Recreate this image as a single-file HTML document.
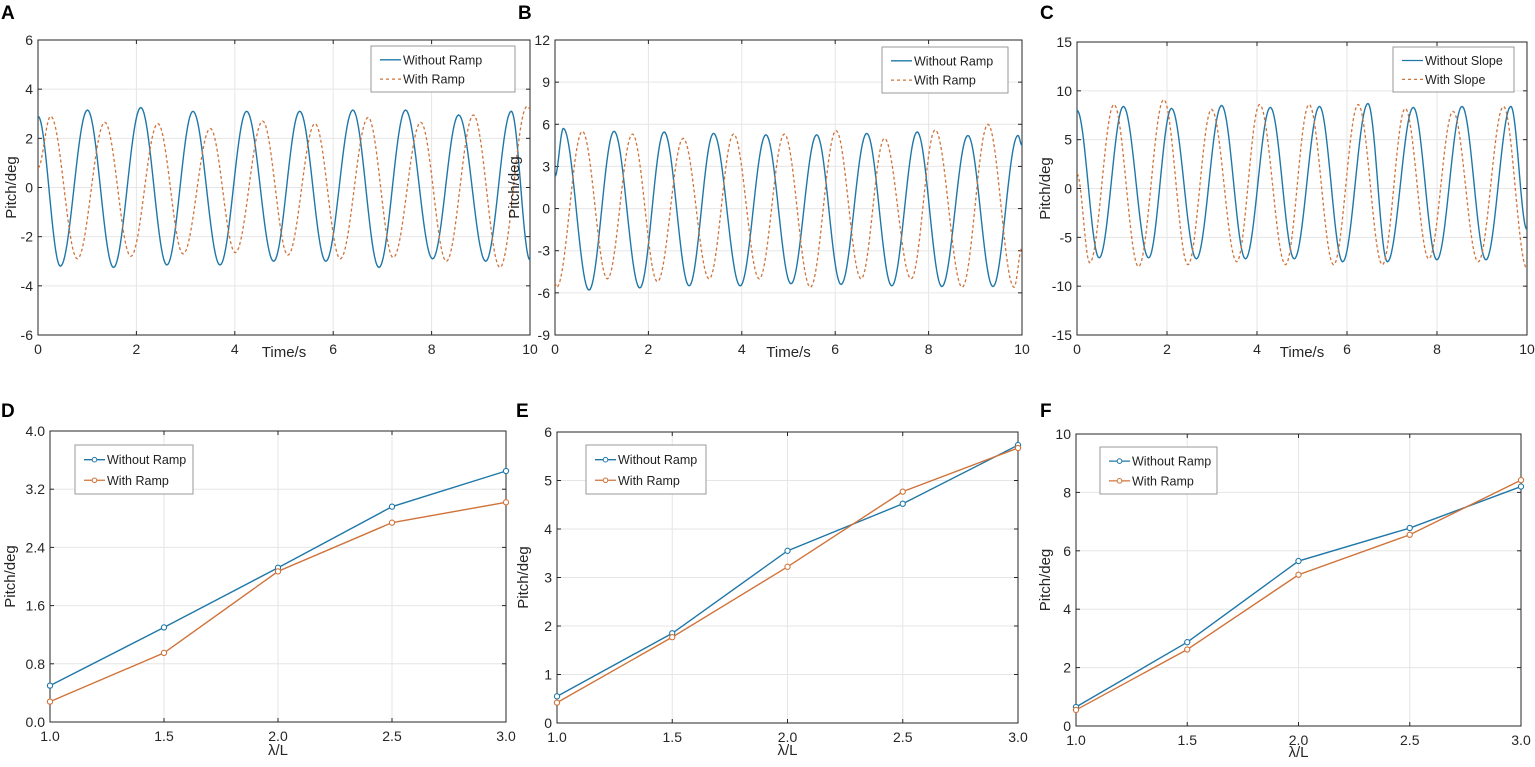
<!DOCTYPE html>
<html><head><meta charset="utf-8"><style>
html,body{margin:0;padding:0;background:#fff;}
svg{display:block;font-family:"Liberation Sans",Arial,sans-serif;}
</style></head><body>
<svg id="fig" width="1535" height="767" viewBox="0 0 1535 767" xmlns="http://www.w3.org/2000/svg"></svg>
<script>
// ---- Panel A data (time of extrema in s, values in deg) ----
const aBlueT=[0,0.455,1.006,1.535,2.09,2.62,3.15,3.70,4.24,4.79,5.32,5.85,6.40,6.93,7.47,8.02,8.55,9.10,9.62,10];
const aBlueV=[2.9,-3.2,3.15,-3.25,3.25,-3.15,3.1,-3.15,3.1,-3.0,3.1,-3.0,3.15,-3.25,3.15,-2.9,2.95,-3.0,3.1,-2.95];
const aOrT=[0,0.257,0.80,1.358,1.887,2.437,2.95,3.502,4.01,4.567,5.08,5.63,6.145,6.71,7.22,7.78,8.30,8.85,9.39,9.94,10];
const aOrV=[0.8,2.9,-2.9,2.65,-2.8,2.6,-2.7,2.4,-2.65,2.7,-2.75,2.6,-2.9,2.85,-2.85,2.65,-3.0,2.95,-3.25,3.3,3.2];
// ---- Panel B ----
const bBlueT=[0,0.18,0.729,1.265,1.816,2.337,2.873,3.395,3.967,4.517,5.054,5.604,6.126,6.676,7.212,7.756,8.284,8.842,9.378,9.914,10];
const bBlueV=[2.3,5.7,-5.8,5.5,-5.65,5.45,-5.5,5.35,-5.5,5.25,-5.35,5.25,-5.4,5.35,-5.5,5.45,-5.55,5.2,-5.55,5.2,4.5];
const bOrT=[0,0.036,0.586,1.122,1.658,2.194,2.745,3.302,3.824,4.374,4.911,5.468,6.018,6.555,7.055,7.627,8.141,8.72,9.271,9.829,10];
const bOrV=[-5.3,-5.6,5.5,-5.0,5.3,-5.2,5.0,-5.0,5.3,-5.0,5.3,-5.6,5.55,-5.0,5.0,-5.0,5.6,-5.6,6.0,-5.6,-2.8];
// ---- Panel C ----
const cBlueT=[0,0.493,1.031,1.592,2.10,2.653,3.214,3.744,4.297,4.828,5.389,5.904,6.465,6.898,7.474,7.997,8.557,9.088,9.641,10];
const cBlueV=[8.0,-7.1,8.4,-7.1,8.2,-7.2,8.5,-7.2,8.3,-7.2,8.4,-7.5,8.7,-7.5,8.3,-7.3,8.4,-7.3,8.4,-4.2];
const cOrT=[0,0.284,0.822,1.368,1.928,2.466,2.99,3.55,4.058,4.634,5.157,5.703,6.248,6.786,7.294,7.818,8.356,8.916,9.477,10];
const cOrV=[1.5,-7.6,8.6,-8.0,9.1,-7.8,8.1,-7.5,8.6,-7.8,8.6,-7.8,8.6,-7.8,8.2,-7.2,7.9,-7.5,8.4,-8.2];
// ---- Bottom panels ----
const lambdaCats=[1.0,1.5,2.0,2.5,3.0];
const dBlue=[0.50,1.30,2.12,2.96,3.45];
const dOrange=[0.28,0.95,2.07,2.74,3.02];
const eBlue=[0.55,1.85,3.55,4.52,5.73];
const eOrange=[0.42,1.77,3.22,4.77,5.67];
const fBlue=[0.65,2.87,5.65,6.78,8.20];
const fOrange=[0.55,2.62,5.18,6.55,8.42];
// ---- Tick labels ----
const timeTicks=[0,2,4,6,8,10];
const aYTicks=[-6,-4,-2,0,2,4,6];
const bYTicks=[-9,-6,-3,0,3,6,9,12];
const cYTicks=[-15,-10,-5,0,5,10,15];
const dYTicks=[0.0,0.8,1.6,2.4,3.2,4.0];
const eYTicks=[0,1,2,3,4,5,6];
const fYTicks=[0,2,4,6,8,10];

const NS="http://www.w3.org/2000/svg";
const svg=document.getElementById('fig');
const BLUE="#1f77a8", ORANGE="#d0733a";
function mk(tag,attrs,parent){const e=document.createElementNS(NS,tag);for(const k in attrs)e.setAttribute(k,attrs[k]);(parent||svg).appendChild(e);return e;}

function axes(p){
  const g=mk('g',{});
  
  
  const sx=v=>p.l+(v-p.x0)/(p.x1-p.x0)*(p.r-p.l);
  const sy=v=>p.b-(v-p.y0)/(p.y1-p.y0)*(p.b-p.t);
  p.xt.forEach(v=>{const l=mk('line',{x1:sx(v),x2:sx(v),y1:p.t,y2:p.b,stroke:'#e6e6e6','stroke-width':1},g);});
  p.yt.forEach(v=>{const l=mk('line',{x1:p.l,x2:p.r,y1:sy(v),y2:sy(v),stroke:'#e6e6e6','stroke-width':1},g);});
  const box=mk('rect',{x:p.l,y:p.t,width:p.r-p.l,height:p.b-p.t,fill:'none',stroke:'#262626','stroke-width':1},g);
  
  p.xt.forEach(v=>{
    mk('line',{x1:sx(v),x2:sx(v),y1:p.b,y2:p.b-4,stroke:'#262626'},g);
    mk('line',{x1:sx(v),x2:sx(v),y1:p.t,y2:p.t+4,stroke:'#262626'},g);
    const t=mk('text',{x:sx(v),y:p.b+19,'text-anchor':'middle','font-size':14,fill:'#262626'},g);
    t.textContent=p.xfmt(v);
    
  });
  p.yt.forEach(v=>{
    mk('line',{x1:p.l,x2:p.l+4,y1:sy(v),y2:sy(v),stroke:'#262626'},g);
    mk('line',{x1:p.r,x2:p.r-4,y1:sy(v),y2:sy(v),stroke:'#262626'},g);
    const t=mk('text',{x:p.l-5,y:sy(v)+5,'text-anchor':'end','font-size':14,fill:'#262626'},g);
    t.textContent=p.yfmt(v);
    
  });
  const yl=mk('text',{x:0,y:0,transform:`translate(${p.ylx},${(p.t+p.b)/2}) rotate(-90)`,'text-anchor':'middle','font-size':15,fill:'#262626'},g);
  yl.textContent='Pitch/deg';
  const xl=mk('text',{x:(p.l+p.r)/2,y:p.xly,'text-anchor':'middle','font-size':15,fill:'#262626'},g);
  xl.textContent=p.xlabel;
  const pl=mk('text',{x:p.lx,y:p.ly,'font-size':19,'font-weight':'bold',fill:'#000'},g);
  pl.textContent=p.letter;
  return {g,sx,sy};
}

function waveD(T,V,sx,sy){
  let d='';
  for(let i=0;i<T.length-1;i++){
    const n=24;
    for(let k=(i==0?0:1);k<=n;k++){
      const f=k/n, w=(1-Math.cos(Math.PI*f))/2;
      const t=T[i]+(T[i+1]-T[i])*f, v=V[i]+(V[i+1]-V[i])*w;
      d+=(d?'L':'M')+sx(t).toFixed(2)+','+sy(v).toFixed(2);
    }
  }
  return d;
}

function legend(g,x,y,w,h,labels,markers,dashed){
  const lg=mk('g',{},g);
  
  mk('rect',{x:x,y:y,width:w,height:h,fill:'#fff',stroke:'#999','stroke-width':1},lg);
  [BLUE,ORANGE].forEach((c,i)=>{
    const yy=y+h*(i==0?0.3:0.72);
    const e=mk('g',{},lg);
    
    mk('line',{x1:x+9,x2:x+30,y1:yy,y2:yy,stroke:c,'stroke-width':1.3,'stroke-dasharray':(dashed&&i==1)?'3,3':'none'},e);
    if(markers)mk('circle',{cx:x+19.5,cy:yy,r:2.3,fill:'#fff',stroke:c,'stroke-width':1},e);
    const t=mk('text',{x:x+32,y:yy+4.5,'font-size':12.5,fill:'#222'},e);
    t.textContent=labels[i];
  });
}

function timePanel(cfg){
  const ax=axes(cfg);
  const b=mk('path',{d:waveD(cfg.bT,cfg.bV,ax.sx,ax.sy),fill:'none',stroke:BLUE,'stroke-width':1.4},ax.g);
  
  const o=mk('path',{d:waveD(cfg.oT,cfg.oV,ax.sx,ax.sy),fill:'none',stroke:ORANGE,'stroke-width':1.3,'stroke-dasharray':'3,2.5'},ax.g);
  
  legend(ax.g,cfg.lgx,cfg.lgy,cfg.lgw,cfg.lgh,cfg.labels,false,true);
}
function linePanel(cfg){
  const ax=axes(cfg);
  [[cfg.blue,BLUE,'without-ramp'],[cfg.orange,ORANGE,'with-ramp']].forEach(([vals,c,nm])=>{
    const d=vals.map((v,i)=>(i?'L':'M')+ax.sx(lambdaCats[i])+','+ax.sy(v)).join('');
    const p=mk('path',{d:d,fill:'none',stroke:c,'stroke-width':1.4},ax.g);
    
    vals.forEach((v,i)=>{
      const m=mk('circle',{cx:ax.sx(lambdaCats[i]),cy:ax.sy(v),r:2.6,fill:'#fff',stroke:c,'stroke-width':1.1},ax.g);
      
    });
  });
  legend(ax.g,cfg.lgx,cfg.lgy,cfg.lgw,cfg.lgh,['Without Ramp','With Ramp'],true,false);
}
const intf=v=>String(v), f1=v=>v.toFixed(1);
timePanel({name:'panel-a',letter:'A',lx:1,ly:19,l:38,r:530,t:40,b:335,x0:0,x1:10,y0:-6,y1:6,xt:timeTicks,yt:aYTicks,xfmt:intf,yfmt:intf,ylx:16,xly:357,xlabel:'Time/s',bT:aBlueT,bV:aBlueV,oT:aOrT,oV:aOrV,lgx:371,lgy:46,lgw:144,lgh:46,labels:['Without Ramp','With Ramp']});
timePanel({name:'panel-b',letter:'B',lx:518,ly:19,l:555,r:1022,t:40,b:335,x0:0,x1:10,y0:-9,y1:12,xt:timeTicks,yt:bYTicks,xfmt:intf,yfmt:intf,ylx:519,xly:357,xlabel:'Time/s',bT:bBlueT,bV:bBlueV,oT:bOrT,oV:bOrV,lgx:882,lgy:47,lgw:126,lgh:46,labels:['Without Ramp','With Ramp']});
timePanel({name:'panel-c',letter:'C',lx:1040,ly:19,l:1077,r:1527,t:42,b:335,x0:0,x1:10,y0:-15,y1:15,xt:timeTicks,yt:cYTicks,xfmt:intf,yfmt:intf,ylx:1050,xly:357,xlabel:'Time/s',bT:cBlueT,bV:cBlueV,oT:cOrT,oV:cOrV,lgx:1393,lgy:47,lgw:121,lgh:45,labels:['Without Slope','With Slope']});
linePanel({name:'panel-d',letter:'D',lx:1,ly:417,l:50,r:506,t:431,b:722,x0:1,x1:3,y0:0,y1:4,xt:lambdaCats,yt:dYTicks,xfmt:f1,yfmt:f1,ylx:15,xly:755,xlabel:'λ/L',blue:dBlue,orange:dOrange,lgx:75,lgy:445,lgw:118,lgh:49});
linePanel({name:'panel-e',letter:'E',lx:516,ly:417,l:557,r:1018,t:432,b:723,x0:1,x1:3,y0:0,y1:6,xt:lambdaCats,yt:eYTicks,xfmt:f1,yfmt:intf,ylx:528,xly:755,xlabel:'λ/L',blue:eBlue,orange:eOrange,lgx:586,lgy:445,lgw:120,lgh:49});
linePanel({name:'panel-f',letter:'F',lx:1040,ly:417,l:1076,r:1521,t:434,b:726,x0:1,x1:3,y0:0,y1:10,xt:lambdaCats,yt:fYTicks,xfmt:f1,yfmt:intf,ylx:1050,xly:757,xlabel:'λ/L',blue:fBlue,orange:fOrange,lgx:1100,lgy:447,lgw:117,lgh:47});
</script>
</body></html>
